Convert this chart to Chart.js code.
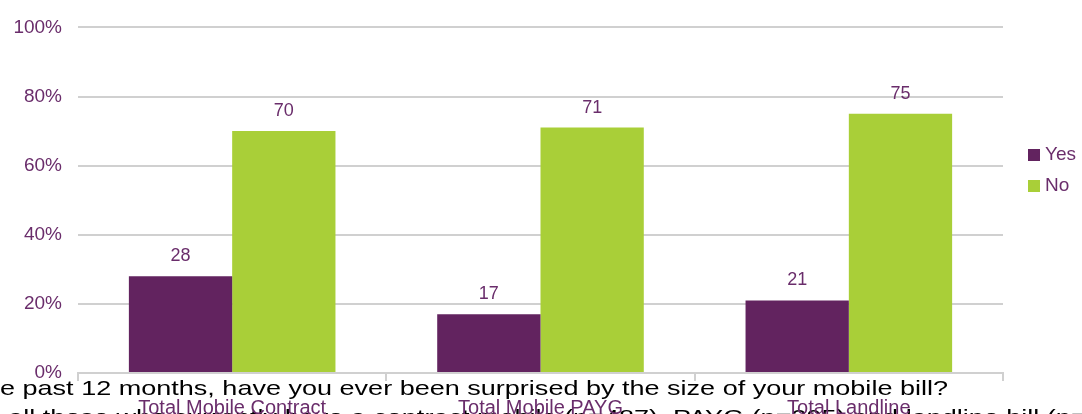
<!DOCTYPE html>
<html>
<head>
<meta charset="utf-8">
<script src="https://cdn.jsdelivr.net/npm/chart.js@4"></script>
<style>
  html, body { margin: 0; padding: 0; background: #fff; }
  #box { width: 1082px; height: 414px; position: relative; }
</style>
</head>
<body>
<div id="box"><canvas id="grafico"></canvas></div>
<script>
// dados
const categorias = ["Total Mobile Contract", "Total Mobile PAYG", "Total Landline"];
const valoresSim = [28, 17, 21];
const valoresNao = [70, 71, 75];
const ticksY = [0, 20, 40, 60, 80, 100];

const corSim = "#62235f";
const corNao = "#a9cf38";
const corTexto = "#6a2d6b";
const corGrade = "#d0d0d0";

// rótulos com os valores em cima das barras
const rotulosBarras = {
    id: "rotulosBarras",
    afterDatasetsDraw(chart) {
        const ctx = chart.ctx;
        ctx.save();
        ctx.font = "18px Arial, 'Liberation Sans'";
        ctx.fillStyle = corTexto;
        ctx.textAlign = "center";
        ctx.textBaseline = "bottom";
        chart.data.datasets.forEach((ds, i) => {
            chart.getDatasetMeta(i).data.forEach((bar, j) => {
                ctx.fillText(ds.data[j], bar.x, bar.y - 11);
            });
        });
        ctx.restore();
    }
};

// legenda desenhada à direita
const legendaDireita = {
    id: "legendaDireita",
    afterDraw(chart) {
        const ctx = chart.ctx;
        ctx.save();
        ctx.font = "19px Arial, 'Liberation Sans'";
        ctx.textBaseline = "middle";
        ctx.textAlign = "left";
        chart.data.datasets.forEach((ds, i) => {
            const y = 155 + i * 31;
            ctx.fillStyle = ds.backgroundColor;
            ctx.fillRect(1028, y - 6, 12, 12);
            ctx.fillStyle = corTexto;
            ctx.fillText(ds.label, 1045, y);
        });
        ctx.restore();
    }
};

// texto preto do slide atrás dos rótulos do eixo (esticado na horizontal)
const textoSlide = {
    id: "textoSlide",
    beforeDraw(chart) {
        const ctx = chart.ctx;
        ctx.save();
        ctx.fillStyle = "#000";
        ctx.font = "21px Arial, 'Liberation Sans'";
        ctx.textBaseline = "alphabetic";
        const linha1 = "In the past 12 months, have you ever been surprised by the size of your mobile bill?";
        const k = 948 / ctx.measureText(linha1.slice(5)).width;
        ctx.save();
        ctx.translate(948, 395);
        ctx.scale(k, 1);
        ctx.textAlign = "right";
        ctx.fillText(linha1, 0, 0);
        ctx.restore();

        const linha2 = "Base: all those who currently have a contract mobile (n=487), PAYG (n=395) and landline bill (n=402)";
        const antes = linha2.slice(0, linha2.indexOf("PAYG"));
        const x0 = 673 - ctx.measureText(antes).width * k;
        ctx.translate(x0, 424);
        ctx.scale(k, 1);
        ctx.textAlign = "left";
        ctx.fillText(linha2, 0, 0);
        ctx.restore();
    }
};

const config = {
    type: "bar",
    data: {
        labels: categorias,
        datasets: [
            { label: "Yes", data: valoresSim, backgroundColor: corSim },
            { label: "No", data: valoresNao, backgroundColor: corNao }
        ]
    },
    options: {
        responsive: false,
        animation: false,
        layout: { padding: { left: 0, right: 79, top: 24, bottom: 0 } },
        datasets: {
            bar: { categoryPercentage: 0.67, barPercentage: 1.0 }
        },
        plugins: {
            legend: { display: false },
            tooltip: { enabled: false }
        },
        scales: {
            x: {
                afterFit: (s) => { s.height = 41; },
                grid: {
                    drawOnChartArea: false,
                    drawTicks: true,
                    tickLength: 8,
                    color: corGrade,
                    lineWidth: 2,
                    offset: true
                },
                border: { color: corGrade, width: 2 },
                ticks: {
                    color: corTexto,
                    font: { family: "Arial, 'Liberation Sans'", size: 20 },
                    padding: 15,
                    maxRotation: 0
                }
            },
            y: {
                min: 0,
                max: 100,
                afterFit: (s) => { s.width = 78; },
                afterBuildTicks: (s) => { s.ticks = ticksY.map(v => ({ value: v })); },
                grid: { color: corGrade, lineWidth: 2, drawTicks: false },
                border: { display: false },
                ticks: {
                    color: corTexto,
                    font: { family: "Arial, 'Liberation Sans'", size: 19 },
                    padding: 16,
                    callback: (v) => v + "%"
                }
            }
        }
    },
    plugins: [textoSlide, rotulosBarras, legendaDireita]
};

const canvas = document.getElementById("grafico");
canvas.width = 1082;
canvas.height = 414;
new Chart(canvas, config);
</script>
</body>
</html>
